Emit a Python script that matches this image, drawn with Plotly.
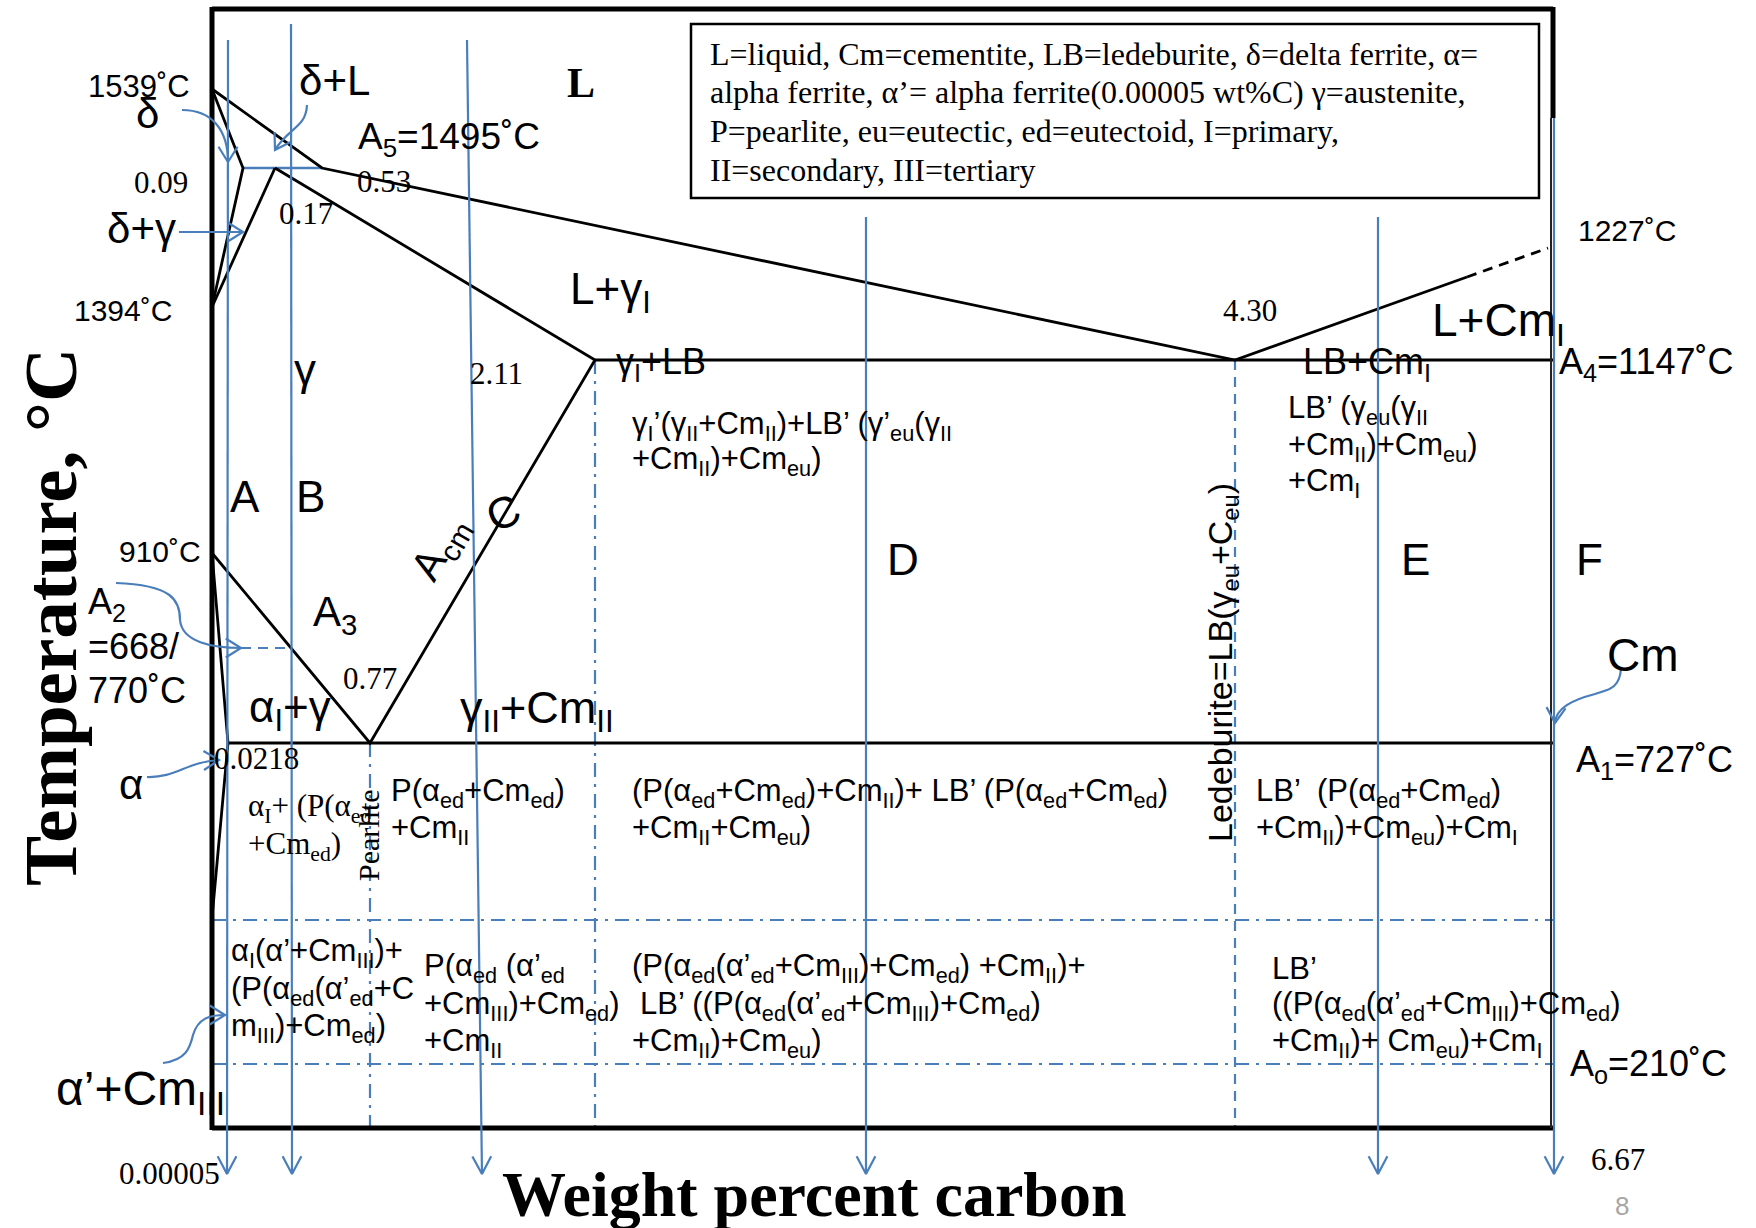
import math
import plotly.graph_objects as go

BLUE = "#4a7ebb"
SANS = "Liberation Sans, Arial, sans-serif"
SERIF = "Liberation Serif, Times New Roman, serif"

# ---------------- schematic key points (diagram units, y grows downward) -------------
P1539 = (212, 89)
P009 = (243, 168)
P017 = (275, 168)
P053 = (322, 168)
P1394 = (212, 307)
P211 = (595, 360)
P430 = (1235, 360)
P910 = (212, 553)
P077 = (370, 743)
P0218 = (228, 743)
P_alpha_low = (212, 918)
P_cm_liq = (1467, 277)
P1227 = (1548, 248)

X_LEFT, X_RIGHT, Y_TOP, Y_BOT = 212, 1553, 9, 1128
Y_A2 = 648
Y_A0_UP = 920
Y_A0 = 1064

# black phase-boundary polylines
solid_lines = [
    [P1539, P053, P430, P_cm_liq],
    [P1539, P009, P1394],
    [P017, P1394],
    [P017, P211, P077, P910],
    [P910, P0218, P_alpha_low],
    [P211, (X_RIGHT, P211[1])],
    [P0218, (X_RIGHT, P0218[1])],
]
dashed_black = [[P_cm_liq, P1227]]

# blue guide lines
blue_solid = [[P009, P053]]
blue_dash = [[(241, Y_A2), (290, Y_A2)], [P430, (P430[0], Y_BOT)]]
blue_dashdot = [
    [P077, (P077[0], Y_BOT)],
    [P211, (P211[0], Y_BOT)],
    [(X_LEFT, Y_A0_UP), (X_RIGHT, Y_A0_UP)],
    [(X_LEFT, Y_A0), (X_RIGHT, Y_A0)],
]

# cooling-path arrows A..F (start, tip)
cool_start = [(228, 40), (291, 24), (467, 40), (866, 217), (1378, 217), (1554, 118)]
cool_tip = [(227, 1174), (292, 1174), (482, 1174), (866, 1174), (1378, 1174), (1554, 1174)]

# curved pointer arrows: (path, last control point, tip)
pointer_paths = [
    ("M182,110 C212,110 228,130 228,162", (228, 130), (228, 162)),
    ("M307,105 C306,128 288,128 275,150", (288, 128), (275, 150)),
    ("M179,232 L243,232", (179, 232), (243, 232)),
    ("M116,583 C172,585 180,600 180,620 C182,642 212,648 241,648", (212, 648), (241, 648)),
    ("M147,777 C176,778 186,762 219,760", (186, 761), (219, 760)),
    ("M163,1063 C186,1060 190,1048 193,1035 C198,1018 210,1015 225,1015", (210, 1015), (225, 1015)),
    ("M1621,668 C1620,690 1606,690 1595,694 C1572,700 1556,708 1555,723", (1556, 708), (1555, 723)),
]

legend_lines = [
    "L=liquid, Cm=cementite, LB=ledeburite, δ=delta ferrite, α=",
    "alpha ferrite, α’= alpha ferrite(0.00005 wt%C) γ=austenite,",
    "P=pearlite, eu=eutectic, ed=eutectoid, I=primary,",
    "II=secondary, III=tertiary",
]
legend_box = (691, 24, 1539, 198)
legend_y = [54, 92, 131, 170]

RS = 31  # size of region-description texts

# text labels: (x, y, text, size, font, anchor, angle)
labels = [
    (139, 86, "1539˚C", 31, SANS, "center", 0),
    (147, 113, "δ", 42, SANS, "center", 0),
    (161, 182, "0.09", 31, SERIF, "center", 0),
    (141, 228, "δ+γ", 42, SANS, "center", 0),
    (123, 310, "1394˚C", 30, SANS, "center", 0),
    (160, 551, "910˚C", 30, SANS, "center", 0),
    (86, 604, "A<sub>2</sub>", 36, SANS, "left", 0),
    (86, 646, "=668/", 36, SANS, "left", 0),
    (86, 690, "770˚C", 36, SANS, "left", 0),
    (131, 784, "α", 42, SANS, "center", 0),
    (256, 758, "0.0218", 31, SERIF, "center", 0),
    (140, 1092, "α’+Cm<sub>III</sub>", 48, SANS, "center", 0),
    (169, 1173, "0.00005", 31, SERIF, "center", 0),
    (334, 80, "δ+L", 42, SANS, "center", 0),
    (581, 83, "<b>L</b>", 42, SERIF, "center", 0),
    (449, 139, "A<sub>5</sub>=1495˚C", 37, SANS, "center", 0),
    (384, 181, "0.53", 31, SERIF, "center", 0),
    (306, 213, "0.17", 31, SERIF, "center", 0),
    (610, 292, "L+γ<sub>I</sub>", 44, SANS, "center", 0),
    (496, 373, "2.11", 31, SERIF, "center", 0),
    (305, 369, "γ", 44, SANS, "center", 0),
    (661, 364, "γ<sub>I</sub>+LB", 36, SANS, "center", 0),
    (1627, 230, "1227˚C", 30, SANS, "center", 0),
    (1250, 310, "4.30", 31, SERIF, "center", 0),
    (1498, 323, "L+Cm<sub>I</sub>", 46, SANS, "center", 0),
    (1367, 364, "LB+Cm<sub>I</sub>", 36, SANS, "center", 0),
    (1646, 364, "A<sub>4</sub>=1147˚C", 36, SANS, "center", 0),
    (245, 496, "A", 44, SANS, "center", 0),
    (310, 496, "B", 44, SANS, "center", 0),
    (503, 512, "C", 44, SANS, "center", -25),
    (440, 549, "A<sub>cm</sub>", 42, SANS, "center", -60),
    (335, 614, "A<sub>3</sub>", 42, SANS, "center", 0),
    (370, 678, "0.77", 31, SERIF, "center", 0),
    (290, 710, "α<sub>I</sub>+γ", 44, SANS, "center", 0),
    (537, 710, "γ<sub>II</sub>+Cm<sub>II</sub>", 45, SANS, "center", 0),
    (903, 559, "D", 44, SANS, "center", 0),
    (1415, 559, "E", 44, SANS, "center", 0),
    (1589, 559, "F", 44, SANS, "center", 0),
    (1643, 655, "Cm", 46, SANS, "center", 0),
    (1654, 762, "A<sub>1</sub>=727˚C", 36, SANS, "center", 0),
    (1222, 663, "Ledeburite=LB(γ<sub>eu</sub>+C<sub>eu</sub>)", 34, SANS, "center", -90),
    (368, 835, "Pearlite", 30, SERIF, "center", -90),
    (1648, 1066, "A<sub>o</sub>=210˚C", 36, SANS, "center", 0),
    (1618, 1159, "6.67", 31, SERIF, "center", 0),
    # region descriptions
    (630, 426, "γ<sub>I</sub>’(γ<sub>II</sub>+Cm<sub>II</sub>)+LB’ (γ’<sub>eu</sub>(γ<sub>II</sub>", RS, SANS, "left", 0),
    (630, 461, "+Cm<sub>II</sub>)+Cm<sub>eu</sub>)", RS, SANS, "left", 0),
    (1286, 410, "LB’ (γ<sub>eu</sub>(γ<sub>II</sub>", RS, SANS, "left", 0),
    (1286, 447, "+Cm<sub>II</sub>)+Cm<sub>eu</sub>)", RS, SANS, "left", 0),
    (1286, 483, "+Cm<sub>I</sub>", RS, SANS, "left", 0),
    (246, 808, "α<sub>I</sub>+ (P(α<sub>ed</sub>", RS, SERIF, "left", 0),
    (246, 846, "+Cm<sub>ed</sub>)", RS, SERIF, "left", 0),
    (389, 793, "P(α<sub>ed</sub>+Cm<sub>ed</sub>)", RS, SANS, "left", 0),
    (389, 830, "+Cm<sub>II</sub>", RS, SANS, "left", 0),
    (630, 793, "(P(α<sub>ed</sub>+Cm<sub>ed</sub>)+Cm<sub>II</sub>)+ LB’ (P(α<sub>ed</sub>+Cm<sub>ed</sub>)", RS, SANS, "left", 0),
    (630, 830, "+Cm<sub>II</sub>+Cm<sub>eu</sub>)", RS, SANS, "left", 0),
    (1254, 793, "LB’  (P(α<sub>ed</sub>+Cm<sub>ed</sub>)", RS, SANS, "left", 0),
    (1254, 830, "+Cm<sub>II</sub>)+Cm<sub>eu</sub>)+Cm<sub>I</sub>", RS, SANS, "left", 0),
    (229, 953, "α<sub>I</sub>(α’+Cm<sub>III</sub>)+", RS, SANS, "left", 0),
    (229, 991, "(P(α<sub>ed</sub>(α’<sub>ed</sub>+C", RS, SANS, "left", 0),
    (229, 1028, "m<sub>III</sub>)+Cm<sub>ed</sub>)", RS, SANS, "left", 0),
    (422, 968, "P(α<sub>ed</sub> (α’<sub>ed</sub>", RS, SANS, "left", 0),
    (422, 1006, "+Cm<sub>III</sub>)+Cm<sub>ed</sub>)", RS, SANS, "left", 0),
    (422, 1043, "+Cm<sub>II</sub>", RS, SANS, "left", 0),
    (630, 968, "(P(α<sub>ed</sub>(α’<sub>ed</sub>+Cm<sub>III</sub>)+Cm<sub>ed</sub>) +Cm<sub>II</sub>)+", RS, SANS, "left", 0),
    (638, 1006, "LB’ ((P(α<sub>ed</sub>(α’<sub>ed</sub>+Cm<sub>III</sub>)+Cm<sub>ed</sub>)", RS, SANS, "left", 0),
    (630, 1043, "+Cm<sub>II</sub>)+Cm<sub>eu</sub>)", RS, SANS, "left", 0),
    (1270, 968, "LB’", RS, SANS, "left", 0),
    (1270, 1006, "((P(α<sub>ed</sub>(α’<sub>ed</sub>+Cm<sub>III</sub>)+Cm<sub>ed</sub>)", RS, SANS, "left", 0),
    (1270, 1043, "+Cm<sub>II</sub>)+ Cm<sub>eu</sub>)+Cm<sub>I</sub>", RS, SANS, "left", 0),
]

fig = go.Figure()


def add_line(pts, color, width, dash="solid"):
    fig.add_trace(go.Scatter(
        x=[p[0] for p in pts], y=[p[1] for p in pts], mode="lines",
        line=dict(color=color, width=width, dash=dash),
        hoverinfo="skip", showlegend=False))


def chevron(last, tip, length=20, half_angle=30):
    dx, dy = tip[0] - last[0], tip[1] - last[1]
    ang = math.atan2(dy, dx)
    pts = []
    for s in (-1, 1):
        a = ang + math.pi + s * math.radians(half_angle)
        pts.append((tip[0] + length * math.cos(a), tip[1] + length * math.sin(a)))
    return [pts[0], tip, pts[1]]


DASHDOT = "14px,7px,3px,7px"

for pl in blue_dashdot:
    add_line(pl, BLUE, 2.2, DASHDOT)
for pl in blue_dash:
    add_line(pl, BLUE, 2.2, "10px,7px")
for pl in blue_solid:
    add_line(pl, BLUE, 2.5)
for pl in solid_lines:
    add_line(pl, "black", 2.8)
for pl in dashed_black:
    add_line(pl, "black", 2.8, "10px,7px")

# frame
add_line([(X_LEFT, Y_TOP), (X_RIGHT, Y_TOP)], "black", 5)
add_line([(X_LEFT, Y_TOP - 2), (X_LEFT, Y_BOT + 2)], "black", 5)
add_line([(X_LEFT, Y_BOT), (X_RIGHT, Y_BOT)], "black", 5)
add_line([(X_RIGHT, Y_TOP - 2), (X_RIGHT, 118)], "black", 5)
add_line([(X_RIGHT - 2, 118), (X_RIGHT - 2, Y_BOT)], "#222222", 2)

# cooling arrows
for s, t in zip(cool_start, cool_tip):
    add_line([s, t], BLUE, 2.2)
    add_line(chevron(s, t, 20, 28), BLUE, 2.2)

shapes = []
for path, last, tip in pointer_paths:
    shapes.append(dict(type="path", path=path, xref="x", yref="y",
                       line=dict(color=BLUE, width=2.2)))
    add_line(chevron(last, tip, 18, 32), BLUE, 2.2)

shapes.append(dict(type="rect", xref="x", yref="y",
                   x0=legend_box[0], y0=legend_box[1], x1=legend_box[2], y1=legend_box[3],
                   line=dict(color="black", width=2.5)))

annotations = []
for x, y, s, size, font, anchor, angle in labels:
    annotations.append(dict(x=x, y=y, xref="x", yref="y", text=s, showarrow=False,
                            xanchor=anchor, yanchor="middle", textangle=angle,
                            font=dict(family=font, size=size, color="black")))
for yy, s in zip(legend_y, legend_lines):
    annotations.append(dict(x=708, y=yy, xref="x", yref="y", text=s, showarrow=False,
                            xanchor="left", yanchor="middle",
                            font=dict(family=SERIF, size=32, color="black")))

# axis titles and page number
annotations.append(dict(x=50, y=617, xref="x", yref="y", text="<b>Temperature, °C</b>",
                        showarrow=False, textangle=-90, xanchor="center", yanchor="middle",
                        font=dict(family=SERIF, size=75, color="black")))
annotations.append(dict(x=814, y=1194, xref="x", yref="y", text="<b>Weight percent carbon</b>",
                        showarrow=False, xanchor="center", yanchor="middle", borderpad=0,
                        font=dict(family=SERIF, size=64, color="black")))
annotations.append(dict(x=1622, y=1206, xref="x", yref="y", text="8",
                        showarrow=False, xanchor="center", yanchor="middle",
                        font=dict(family=SANS, size=26, color="#a6a6a6")))

fig.update_layout(
    width=1756, height=1228,
    margin=dict(l=0, r=0, t=0, b=0),
    paper_bgcolor="white", plot_bgcolor="white",
    xaxis=dict(range=[0, 1756], visible=False, fixedrange=True),
    yaxis=dict(range=[1228, 0], visible=False, fixedrange=True),
    shapes=shapes, annotations=annotations, showlegend=False,
)

fig.write_html("out.html", config={"displayModeBar": False},
               post_script="document.body.style.margin='0';document.body.style.overflow='hidden';")
